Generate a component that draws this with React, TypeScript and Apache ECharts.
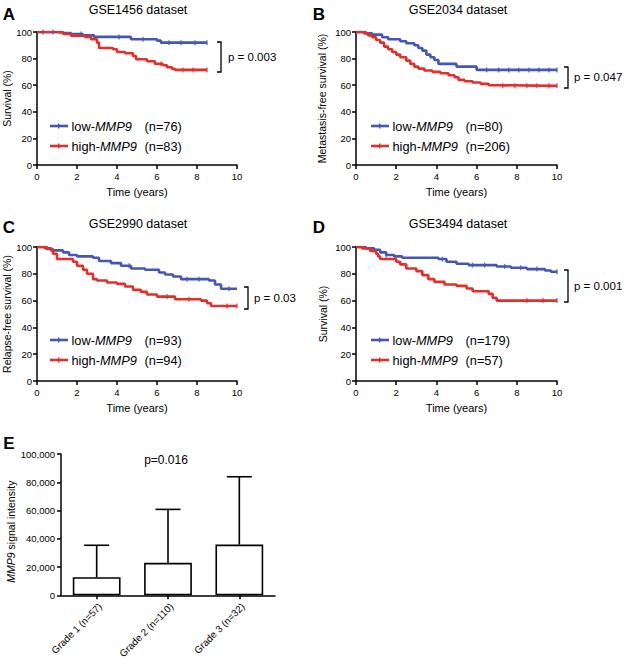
import React, { useEffect, useRef } from "react";
import * as echarts from "echarts";

const BLUE = "#4556b3";
const RED = "#e1302a";
const FONT = "Liberation Sans, Arial, Helvetica, sans-serif";

// ---- Panel data (time in years, survival in %) ----
const timeTicks = [0, 2, 4, 6, 8, 10];

const aLow: number[][] = [[0,100],[1.3,99.3],[1.7,98.5],[2.3,97.5],[2.85,96.3],[4.7,94.5],[6.0,93.5],[6.2,92],[8.5,92]];
const aHigh: number[][] = [[0,100],[1.0,99.5],[1.3,98.5],[1.7,97.3],[2.4,96.3],[2.7,94.5],[3.0,92],[3.1,88],[3.8,87],[4.0,85],[4.4,84],[4.8,82],[4.95,79.5],[5.5,78],[5.9,76],[6.3,75],[6.5,73.5],[6.75,72.3],[6.9,71.5],[8.5,71.5]];

const bLow: number[][] = [[0,100],[0.5,99],[0.8,98],[1.3,96],[1.6,94.5],[2.2,93],[2.5,91.5],[2.9,90],[3.1,88],[3.3,86],[3.5,83],[3.7,81],[3.9,79],[4.1,76],[5.0,74],[6.0,71.5],[10,71.5]];
const bHigh: number[][] = [[0,100],[0.4,99],[0.6,97.5],[0.8,96],[1.0,94],[1.2,92],[1.4,89],[1.6,87],[1.8,85],[2.0,83],[2.2,81],[2.5,78.5],[2.7,76],[2.9,74],[3.1,72.5],[3.4,71],[3.8,70],[4.2,69],[4.6,67.5],[4.9,66],[5.1,64],[5.4,63],[5.8,62],[6.2,61],[6.6,60],[7.0,59.5],[10,59.5]];

const cLow: number[][] = [[0,100],[0.4,99],[0.7,97.5],[1.3,96],[1.6,94],[2.0,93],[2.8,92],[3.1,89.5],[3.7,88],[4.2,86],[4.7,84],[5.4,83],[6.1,81],[6.4,79.5],[6.8,78],[7.2,76],[8.6,75],[8.9,72],[9.2,68.8],[10,68.8]];
const cHigh: number[][] = [[0,100],[0.5,98.5],[0.8,95],[1.0,91],[1.8,89],[2.0,86],[2.3,83],[2.5,80],[2.8,76],[3.0,75],[3.5,73.5],[4.0,72.5],[4.4,70.5],[4.8,68],[5.2,66.5],[5.5,64.5],[6.0,63],[6.9,61],[8.2,60],[8.5,58],[8.7,56],[10,56]];

const dLow: number[][] = [[0,100],[0.5,99],[0.9,98],[1.2,96],[1.5,94],[1.9,93],[2.3,92],[4.1,91],[4.5,89],[5.0,87.5],[5.6,86.5],[7.0,85.5],[7.7,84.5],[8.5,83.5],[9.4,82.5],[9.7,81.5],[10,81.5]];
const dHigh: number[][] = [[0,100],[0.3,99],[0.7,97],[1.0,95],[1.1,93],[1.2,91],[2.0,89],[2.2,87],[2.5,84],[3.0,82],[3.3,79],[3.6,76],[3.9,74],[4.4,72],[5.0,71],[5.5,69],[5.8,67],[6.6,65],[6.8,62],[7.0,60],[10,60]];

// censor marks (times)
const aLowCens = [0.3, 0.8, 2.2, 4.1, 5.3, 6.6, 7.2, 7.9, 8.5];
const aHighCens = [6.2, 7.3, 7.8, 8.5];
const bLowCens = [6.5, 7.1, 7.6, 8.1, 8.6, 9.1, 9.6, 10];
const bHighCens = [7.3, 7.9, 8.5, 9.0, 9.6, 10];
const cLowCens = [4.6, 7.5, 8.1, 9.6];
const cHighCens = [6.5, 7.6, 9.5, 10];
const dLowCens = [1.5, 4.3, 5.8, 6.4, 7.4, 8.2, 9.0, 10];
const dHighCens = [8.5, 9.3, 10];

const titles = ["GSE1456 dataset", "GSE2034 dataset", "GSE2990 dataset", "GSE3494 dataset"];
const yNames = ["Survival (%)", "Metastasis-free survival (%)", "Relapse-free survival (%)", "Survival (%)"];
const lowN = ["(n=76)", "(n=80)", "(n=93)", "(n=179)"];
const highN = ["(n=83)", "(n=206)", "(n=94)", "(n=57)"];
const pTexts = ["p = 0.003", "p = 0.047", "p = 0.03", "p = 0.001"];

// ---- Panel E ----
const grades = ["Grade 1 (n=57)", "Grade 2 (n=110)", "Grade 3 (n=32)"];
const gradeMeans = [12800, 23000, 35900];
const gradeUpper = [35400, 60800, 83900];

function stepAt(data: number[][], t: number) {
  let v = data[0][1];
  for (const p of data) if (p[0] <= t) v = p[1];
  return v;
}

function measure(text: string, font: string) {
  const ctx = document.createElement("canvas").getContext("2d");
  if (!ctx) return text.length * 7;
  ctx.font = font;
  return ctx.measureText(text).width;
}

export default function App() {
  const ref = useRef<HTMLDivElement>(null);
  useEffect(() => {
    const chart = echarts.init(ref.current!, null, { renderer: "svg" });

    const grids = [
      { left: 36, top: 32, width: 201, height: 133 },
      { left: 356, top: 32, width: 201, height: 133 },
      { left: 36, top: 247, width: 201, height: 134 },
      { left: 356, top: 247, width: 201, height: 134 },
      { left: 61, top: 454, width: 214, height: 143 },
    ];
    const axLine = { show: true, lineStyle: { color: "#000", width: 1.5 } };
    const axTick = { show: true, length: 4, lineStyle: { color: "#000", width: 1.5 } };

    const kmSets = [
      [aLow, aHigh, aLowCens, aHighCens],
      [bLow, bHigh, bLowCens, bHighCens],
      [cLow, cHigh, cLowCens, cHighCens],
      [dLow, dHigh, dLowCens, dHighCens],
    ] as any[];

    const xAxes: any[] = [];
    const yAxes: any[] = [];
    const series: any[] = [];
    const yGaps = [25, 29, 25, 28];
    for (let i = 0; i < 4; i++) {
      xAxes.push({
        type: "value", gridIndex: i, min: 0, max: 10, interval: 2,
        axisLine: axLine, axisTick: axTick, splitLine: { show: false },
        axisLabel: { color: "#000", fontSize: 9.5, margin: 6, fontFamily: FONT },
        name: "Time (years)", nameLocation: "middle", nameGap: 21,
        nameTextStyle: { color: "#000", fontSize: 11, fontFamily: FONT },
      });
      yAxes.push({
        type: "value", gridIndex: i, min: 0, max: 100, interval: 20,
        axisLine: axLine, axisTick: axTick, splitLine: { show: false },
        axisLabel: { color: "#000", fontSize: 9.5, margin: 5, fontFamily: FONT },
        name: yNames[i], nameLocation: "middle", nameGap: yGaps[i],
        nameTextStyle: { color: "#000", fontSize: 10.5, fontFamily: FONT },
      });
      const [lo, hi, loC, hiC] = kmSets[i];
      [[lo, BLUE, loC], [hi, RED, hiC]].forEach(([d, c, cens]: any) => {
        series.push({
          type: "line", xAxisIndex: i, yAxisIndex: i, data: d, step: "end",
          showSymbol: false, lineStyle: { color: c, width: 2.6 }, z: 3,
        });
        series.push({
          type: "scatter", xAxisIndex: i, yAxisIndex: i,
          data: cens.map((t: number) => [t, stepAt(d, t)]),
          symbol: "rect", symbolSize: [1.4, 5], itemStyle: { color: c }, z: 4,
        });
      });
    }

    // Panel E axes
    xAxes.push({
      type: "category", gridIndex: 4, data: grades,
      axisLine: axLine, axisTick: { ...axTick, alignWithLabel: true },
      axisLabel: { color: "#000", fontSize: 9.8, rotate: 45, margin: 6, verticalAlign: "top", fontFamily: FONT, interval: 0 },
    });
    yAxes.push({
      type: "value", gridIndex: 4, min: 0, max: 100000, interval: 20000,
      axisLine: axLine, axisTick: axTick, splitLine: { show: false },
      axisLabel: {
        color: "#000", fontSize: 9.5, margin: 6, fontFamily: FONT,
        formatter: (v: number) => v.toLocaleString("en-US"),
      },
      name: "{i|MMP9} signal intensity", nameLocation: "middle", nameGap: 45,
      nameTextStyle: {
        color: "#000", fontSize: 10.5, fontFamily: FONT, padding: [0, 14, 0, 0],
        rich: { i: { fontStyle: "italic", fontSize: 10.5, fontFamily: FONT, color: "#000" } },
      },
    });
    series.push({
      type: "bar", xAxisIndex: 4, yAxisIndex: 4, data: gradeMeans, barWidth: "67%",
      itemStyle: { color: "#fff", borderColor: "#000", borderWidth: 1.6 },
    });
    series.push({
      type: "custom", xAxisIndex: 4, yAxisIndex: 4,
      data: grades.map((_, i) => [i, gradeMeans[i], gradeUpper[i]]),
      renderItem: (params: any, api: any) => {
        const base = api.coord([api.value(0), api.value(1)]);
        const top = api.coord([api.value(0), api.value(2)]);
        const st = { stroke: "#000", lineWidth: 1.6 };
        return {
          type: "group",
          children: [
            { type: "line", shape: { x1: top[0], y1: base[1], x2: top[0], y2: top[1] }, style: st },
            { type: "line", shape: { x1: top[0] - 12.5, y1: top[1], x2: top[0] + 12.5, y2: top[1] }, style: st },
          ],
        };
      },
      z: 5,
    });

    // Graphic annotations
    const g: any[] = [];
    const letters = [["A", 9, 14], ["B", 319, 14], ["C", 9, 227], ["D", 319, 227], ["E", 9, 443]];
    letters.forEach(([t, x, y]) =>
      g.push({ type: "text", x, y, style: { text: t, font: `bold 17px ${FONT}`, fill: "#000", align: "center", verticalAlign: "middle" } })
    );
    const titlePos = [[138, 10], [458, 10], [138, 224], [458, 224]];
    titles.forEach((t, i) =>
      g.push({ type: "text", x: titlePos[i][0], y: titlePos[i][1], style: { text: t, font: `12.5px ${FONT}`, fill: "#000", align: "center", verticalAlign: "middle" } })
    );
    // legends
    const LF = 12.8;
    const plainFont = `${LF}px ${FONT}`;
    const italFont = `italic ${LF}px ${FONT}`;
    const legPos = [[50, 126], [371, 126], [50, 340], [371, 340]];
    legPos.forEach(([lx, ly], i) => {
      [[BLUE, "low-", lowN[i], 0], [RED, "high-", highN[i], 20]].forEach(([c, pre, nTxt, dy]: any) => {
        const yy = ly + dy;
        g.push({ type: "line", shape: { x1: lx, y1: yy, x2: lx + 18, y2: yy }, style: { stroke: c, lineWidth: 2.6 } });
        g.push({ type: "rect", shape: { x: lx + 8, y: yy - 2.5, width: 1.4, height: 5 }, style: { fill: c } });
        const tx = lx + 21.5;
        g.push({ type: "text", x: tx, y: yy, style: { text: pre, font: plainFont, fill: "#000", verticalAlign: "middle", align: "left" } });
        g.push({ type: "text", x: tx + measure(pre, plainFont), y: yy, style: { text: "MMP9", font: italFont, fill: "#000", verticalAlign: "middle", align: "left" } });
        g.push({ type: "text", x: lx + 94.5, y: yy, style: { text: nTxt, font: plainFont, fill: "#000", verticalAlign: "middle", align: "left" } });
      });
    });
    // brackets and p values
    const brackets = [
      [221, 42, 72, 228, 57],
      [568, 67, 88, 574, 77],
      [248, 287, 309, 254, 298],
      [568, 270, 302, 574, 286],
    ];
    brackets.forEach(([bx, y1, y2, tx, ty], i) => {
      g.push({
        type: "polyline",
        shape: { points: [[bx - 4, y1], [bx, y1], [bx, y2], [bx - 4, y2]] },
        style: { stroke: "#000", lineWidth: 1.3, fill: null },
      });
      g.push({ type: "text", x: tx, y: ty, style: { text: pTexts[i], font: `11.5px ${FONT}`, fill: "#000", verticalAlign: "middle", align: "left" } });
    });
    g.push({ type: "text", x: 166, y: 460, style: { text: "p=0.016", font: `12px ${FONT}`, fill: "#000", align: "center", verticalAlign: "middle" } });

    chart.setOption({
      animation: false,
      backgroundColor: "#fff",
      textStyle: { fontFamily: FONT },
      grid: grids,
      xAxis: xAxes,
      yAxis: yAxes,
      series,
      graphic: g,
    });
    return () => chart.dispose();
  }, []);
  return <div ref={ref} style={{ position: "fixed", left: 0, top: 0, width: 624, height: 661, background: "#fff" }} />;
}
